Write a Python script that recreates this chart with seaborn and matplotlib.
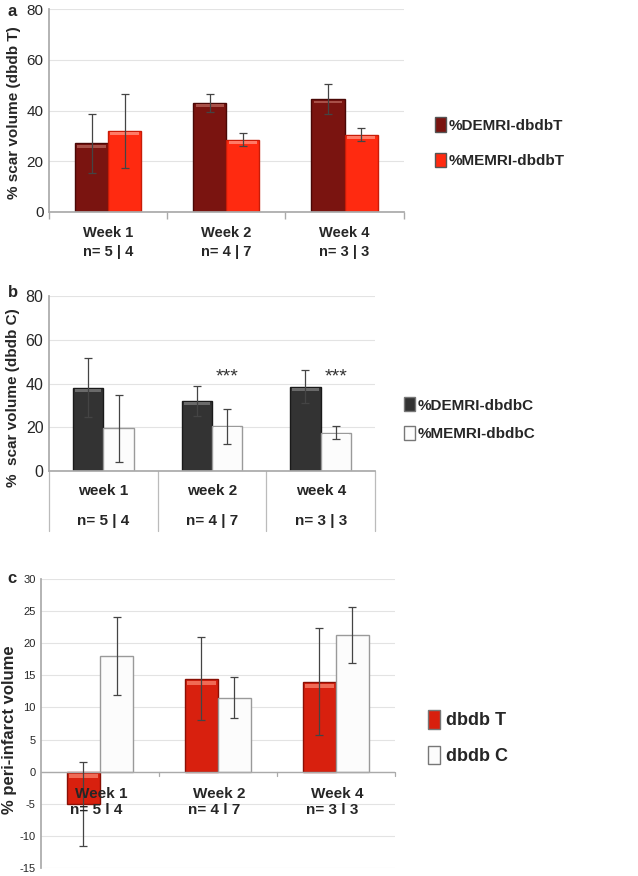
import pandas as pd
import numpy as np
import seaborn as sns
import matplotlib.pyplot as plt
from matplotlib.patches import Patch

sns.set_theme(style="white")
plt.rcParams['font.family'] = ['Liberation Sans', 'DejaVu Sans']
plt.rcParams['axes.unicode_minus'] = False

weeks_a = ["Week 1\nn= 5 | 4", "Week 2\nn= 4 | 7", "Week 4\nn= 3 | 3"]
demri_t = [27, 43, 44.5]
demri_t_err = [11.7, 3.5, 6.0]
memri_t = [32, 28.5, 30.5]
memri_t_err = [14.5, 2.5, 2.5]

weeks_b = ["week 1", "week 2", "week 4"]
n_b = ["n= 5 | 4", "n= 4 | 7", "n= 3 | 3"]
demri_c = [38, 32, 38.5]
demri_c_err = [13.5, 7.0, 7.5]
memri_c = [19.5, 20.5, 17.5]
memri_c_err = [15.2, 8.0, 3.0]
stars_b = ["", "***", "***"]

weeks_c = ["Week 1", "Week 2", "Week 4"]
n_c = ["n= 5 l 4", "n= 4 l 7", "n= 3 l 3"]
peri_t = [-5, 14.5, 14]
peri_t_err = [6.5, 6.5, 8.3]
peri_c = [18, 11.5, 21.3]
peri_c_err = [6.1, 3.2, 4.4]


def make_df(cats, s1, e1, name1, s2, e2, name2):
    rows = []
    for c, v, e in zip(cats, s1, e1):
        rows.append((c, name1, v, e))
    for c, v, e in zip(cats, s2, e2):
        rows.append((c, name2, v, e))
    return pd.DataFrame(rows, columns=["week", "group", "value", "err"])


def draw_bars(ax, df, palette, edges, tops):
    sns.barplot(df, x="week", y="value", hue="group", palette=palette,
                width=0.56, errorbar=None, ax=ax, legend=False,
                linewidth=1.0, saturation=1)
    groups = list(palette.keys())
    for cont, g in zip(ax.containers, groups):
        sub = df[df.group == g]
        xs = [p.get_x() + p.get_width() / 2 for p in cont.patches]
        for p in cont.patches:
            p.set_edgecolor(edges[g])
            # light bevel strip near the top of each bar
            h = p.get_height()
            y0, y1 = ax.get_ylim()
            strip = (y1 - y0) * 0.012
            ytop = p.get_y() + h if h >= 0 else p.get_y()
            ax.bar(p.get_x() + p.get_width() / 2, -strip * 1.2, bottom=ytop - strip * 0.6,
                   width=p.get_width() * 0.86, color=tops[g], linewidth=0, zorder=p.get_zorder() + 0.1)
        ax.errorbar(xs, sub.value.values, yerr=sub.err.values, fmt="none",
                    ecolor="#444444", elinewidth=0.9, capsize=3, capthick=0.9, zorder=5)
    return ax


def style_axes(ax):
    ax.yaxis.grid(True, color="#e3e3e3", linewidth=0.8)
    ax.set_axisbelow(True)
    for s in ["top", "right"]:
        ax.spines[s].set_visible(False)
    ax.spines["left"].set_color("#aaaaaa")
    ax.spines["bottom"].set_color("#aaaaaa")
    ax.set_xlabel("")


fig = plt.figure(figsize=(6.38, 8.76), dpi=100)

# ---- panel a
ax_a = fig.add_axes([0.0768, 0.758, 0.556, 0.2317])
ax_a.set_ylim(0, 80)
df_a = make_df(weeks_a, demri_t, demri_t_err, "%DEMRI-dbdbT",
               memri_t, memri_t_err, "%MEMRI-dbdbT")
pal_a = {"%DEMRI-dbdbT": "#7a1410", "%MEMRI-dbdbT": "#ff2a10"}
draw_bars(ax_a, df_a, pal_a, {"%DEMRI-dbdbT": "#4a0806", "%MEMRI-dbdbT": "#c81c08"},
          {"%DEMRI-dbdbT": "#a85048", "%MEMRI-dbdbT": "#ff7a66"})
style_axes(ax_a)
ax_a.set_ylim(0, 80)
ax_a.set_xlim(-0.5, 2.5)
ax_a.set_yticks([0, 20, 40, 60, 80])
ax_a.set_ylabel("% scar volume (dbdb T)", fontsize=11, fontweight="bold")
ax_a.yaxis.set_label_coords(-0.08, 0.49)
ax_a.tick_params(axis="y", labelsize=11, length=0, pad=4)
ax_a.tick_params(axis="x", length=0, pad=10)
for lab in ax_a.get_xticklabels():
    lab.set_fontweight("bold")
    lab.set_fontsize(10.5)
    lab.set_linespacing(1.5)
ax_a.set_xticks([-0.5, 0.5, 1.5, 2.5], minor=True)
ax_a.tick_params(axis="x", which="minor", length=5, color="#aaaaaa", direction="out", bottom=True)
ax_a.legend(handles=[Patch(facecolor=c, edgecolor="#555555", label=k) for k, c in pal_a.items()],
            loc="upper left", bbox_to_anchor=(0.66, 0.882), bbox_transform=fig.transFigure,
            frameon=False, handlelength=0.7, handleheight=1.1, handletextpad=0.2,
            labelspacing=1.3, prop={"weight": "bold", "size": 11})
fig.text(0.012, 0.995, "a", fontsize=12, fontweight="bold", va="top")

# ---- panel b
ax_b = fig.add_axes([0.0768, 0.4623, 0.511, 0.1998])
ax_b.set_ylim(0, 80)
df_b = make_df(weeks_b, demri_c, demri_c_err, "%DEMRI-dbdbC",
               memri_c, memri_c_err, "%MEMRI-dbdbC")
pal_b = {"%DEMRI-dbdbC": "#333333", "%MEMRI-dbdbC": "#fcfcfc"}
draw_bars(ax_b, df_b, pal_b, {"%DEMRI-dbdbC": "#1a1a1a", "%MEMRI-dbdbC": "#9a9a9a"},
          {"%DEMRI-dbdbC": "#6a6a6a", "%MEMRI-dbdbC": "#fcfcfc"})
style_axes(ax_b)
ax_b.set_ylim(0, 80)
ax_b.set_xlim(-0.5, 2.5)
ax_b.set_yticks([0, 20, 40, 60, 80])
ax_b.set_ylabel("%  scar volume (dbdb C)", fontsize=11, fontweight="bold")
ax_b.yaxis.set_label_coords(-0.09, 0.42)
ax_b.tick_params(axis="y", labelsize=11.5, length=0, pad=4)
ax_b.set_xticks([0, 1, 2])
ax_b.set_xticklabels(weeks_b, fontsize=11, fontweight="bold")
ax_b.tick_params(axis="x", length=0, pad=9)
xt = ax_b.get_xaxis_transform()
for xb in [-0.5, 0.5, 1.5, 2.5]:
    ax_b.plot([xb, xb], [0, -0.34], transform=xt, color="#bbbbbb", lw=0.9, clip_on=False)
for i, t in enumerate(n_b):
    ax_b.text(i, -0.285, t, transform=xt, ha="center", va="center",
              fontsize=11, fontweight="bold")
memri_x = [p.get_x() + p.get_width() / 2 for p in ax_b.containers[1].patches]
for xs, s in zip(memri_x, stars_b):
    if s:
        ax_b.text(xs, 43, s, ha="center", va="center", fontsize=14, color="#333333")
ax_b.legend(handles=[Patch(facecolor=c, edgecolor="#777777", label=k) for k, c in pal_b.items()],
            loc="upper left", bbox_to_anchor=(0.612, 0.562), bbox_transform=fig.transFigure,
            frameon=False, handlelength=0.7, handleheight=1.0, handletextpad=0.2,
            labelspacing=0.9, prop={"weight": "bold", "size": 11})
fig.text(0.012, 0.675, "b", fontsize=12, fontweight="bold", va="top")

# ---- panel c
ax_c = fig.add_axes([0.0643, 0.0091, 0.5547, 0.33])
ax_c.set_ylim(-15, 30)
df_c = make_df(weeks_c, peri_t, peri_t_err, "dbdb T",
               peri_c, peri_c_err, "dbdb C")
pal_c = {"dbdb T": "#d8200e", "dbdb C": "#fcfcfc"}
draw_bars(ax_c, df_c, pal_c, {"dbdb T": "#8a1005", "dbdb C": "#9a9a9a"},
          {"dbdb T": "#f06a55", "dbdb C": "#fcfcfc"})
style_axes(ax_c)
ax_c.spines["bottom"].set_visible(False)
ax_c.set_ylim(-15, 30)
ax_c.set_xlim(-0.5, 2.5)
ax_c.set_yticks(np.arange(-15, 31, 5))
ax_c.axhline(0, color="#aaaaaa", lw=1.0)
ax_c.set_ylabel("% peri-infarct volume", fontsize=12, fontweight="bold")
ax_c.yaxis.set_label_coords(-0.068, 0.48)
ax_c.tick_params(axis="y", labelsize=8, length=0, pad=4)
ax_c.set_xticks([0, 1, 2])
ax_c.set_xticklabels([])
ax_c.tick_params(axis="x", length=0)
for xb in [0.5, 1.5, 2.5]:
    ax_c.plot([xb, xb], [0, -0.7], color="#aaaaaa", lw=0.9, clip_on=False)
for i, (w, n) in enumerate(zip(weeks_c, n_c)):
    ax_c.text(i + 0.01, -3.4, w, ha="center", va="center", fontsize=11, fontweight="bold", zorder=6)
    ax_c.text(i - 0.03, -6.0, n, ha="center", va="center", fontsize=11, fontweight="bold", zorder=6)
ax_c.legend(handles=[Patch(facecolor=c, edgecolor="#777777", label=k) for k, c in pal_c.items()],
            loc="upper left", bbox_to_anchor=(0.645, 0.208), bbox_transform=fig.transFigure,
            frameon=False, handlelength=0.7, handleheight=1.2, handletextpad=0.3,
            labelspacing=0.9, prop={"weight": "bold", "size": 13})
fig.text(0.012, 0.348, "c", fontsize=12, fontweight="bold", va="top")

fig.savefig("out.png", dpi=100)
